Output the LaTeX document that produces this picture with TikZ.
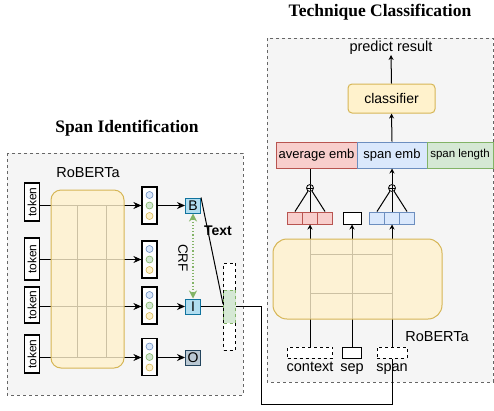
\documentclass[tikz,border=0pt]{standalone}
\usepackage{fontspec}
\setmainfont{Liberation Sans}
\newfontfamily\titlefont{Liberation Serif}
\usepackage{tikz}
\usetikzlibrary{arrows.meta}
\usetikzlibrary{positioning}
\definecolor{panelgray}{HTML}{F5F5F5}
\definecolor{dashgray}{HTML}{666666}
\definecolor{ylwfill}{HTML}{FFF2CC}
\definecolor{ylwline}{HTML}{D6B656}
\definecolor{grnfill}{HTML}{D5E8D4}
\definecolor{grnline}{HTML}{82B366}
\definecolor{blufill}{HTML}{DAE8FC}
\definecolor{bluline}{HTML}{6C8EBF}
\definecolor{redfill}{HTML}{F8CECC}
\definecolor{redline}{HTML}{B85450}
\definecolor{tagfill}{HTML}{B1DDF0}
\definecolor{tagline}{HTML}{10739E}
\definecolor{ofill}{HTML}{BAC8D3}
\definecolor{oline}{HTML}{23445D}
\def\fs#1{\fontsize{#1}{#1}\selectfont}
\newcommand{\featvec}[2]{%
  \node[vecbox] (#1) at (#2) {};
  \draw[line width=0.6pt,draw=bluline,fill=blufill] ([yshift=10.5pt]#1.center) circle (3.5pt);
  \draw[line width=0.6pt,draw=grnline,fill=grnfill] (#1.center) circle (3.5pt);
  \draw[line width=0.6pt,draw=ylwline,fill=ylwfill] ([yshift=-10.5pt]#1.center) circle (3.5pt);}

\begin{document}
\begin{tikzpicture}[x=1pt,y=-1pt,
    panel/.style={draw=dashgray,line width=0.9pt,dash pattern=on 3pt off 3pt,fill=panelgray},
    tokbox/.style={draw,line width=1.2pt,fill=white,rotate=90,minimum width=38pt,minimum height=15pt,inner sep=0pt,font=\fs{12}},
    vecbox/.style={draw,line width=1.2pt,fill=white,minimum width=15pt,minimum height=37pt,inner sep=0pt},
    tagbox/.style={draw=tagline,line width=1pt,fill=tagfill,minimum size=15pt,inner sep=0pt,font=\fs{14}},
    cell/.style={line width=1pt,minimum width=15pt,minimum height=12pt,inner sep=0pt},
    embbox/.style={line width=1pt,minimum height=26pt,inner sep=0pt,font=\fs{13}},
    inbox/.style={draw,line width=1pt,fill=white,minimum height=11pt,inner sep=0pt},
    lbl/.style={inner sep=0pt,font=\fs{14.5}},
    plus/.style={draw,circle,line width=0.8pt,minimum size=7pt,inner sep=0pt,
      path picture={\draw[line width=0.8pt] (path picture bounding box.north) -- (path picture bounding box.south)
        (path picture bounding box.west) -- (path picture bounding box.east);}},
    conn/.style={line width=1pt,-{Stealth[length=8pt,width=7pt]}},
    up/.style={line width=1pt,-{Stealth[length=5pt,width=5pt]}},
    ttl/.style={font=\titlefont\bfseries\fs{17.5}}]
    \useasboundingbox (0,0) rectangle (494,410);
    % Panels
    \draw[panel] (7,153) rectangle (243,395);
    \draw[panel] (267,38) rectangle (493,382);
    \node[ttl] (ttlspan) at (127,128) {Span Identification};
    \node[ttl] (ttltech) at (380,12) {Technique Classification};
    % Span identification
    \node[lbl] (robL) at (88,173) {RoBERTa};
    \node[tokbox] (t1) at (32,202) {token};
    \node[tokbox,minimum width=42pt] (t2) at (32,259) {token};
    \node[tokbox,minimum width=36pt] (t3) at (32,305) {token};
    \node[tokbox] (t4) at (32,354) {token};
    \featvec{v1}{149.5,205.5}
    \featvec{v2}{149.5,259.5}
    \featvec{v3}{149.5,305.5}
    \featvec{v4}{149.5,357}
    \node[tagbox] (B) at (193,205.5) {B};
    \node[tagbox] (I) at (193,306.5) {I};
    \node[tagbox,draw=oline,fill=ofill] (O) at (193,357.5) {O};
    % token rows
    \draw[conn] (t1.south |- v1.west) to (v1.west);
    \draw[conn] (t2.south |- v2.west) to (v2.west);
    \draw[conn] (t3.south |- I.west) to (v3.west |- I.west);
    \draw[conn] (t4.south |- O.west) to (v4.west |- O.west);
    \draw[line width=0.8pt] (77,205.5) to (77,357.5);
    \draw[line width=0.8pt] (106,205.5) to (106,357.5);
    \draw[draw=ylwline,line width=1pt,fill=ylwfill,fill opacity=0.8,rounded corners=10pt] (51,190) rectangle (124,368);
    % tags
    \draw[conn] (v1.east) to (B.west);
    \draw[conn] (v3.east |- I.west) to (I.west);
    \draw[conn] (v4.east |- O.west) to (O.west);
    \draw[grnline,line width=1.2pt,dotted,{Stealth[length=8pt,width=8pt]}-{Stealth[length=8pt,width=8pt]}] (B.south) to (I.north);
    \node[rotate=-90,font=\fs{13.5},inner sep=0pt] (crf) at (183,258) {CRF};
    \node[font=\bfseries\fs{14},inner sep=0pt] (txt) at (218,231) {Text};
    % Technique classification
    \node[lbl] (pred) at (391,48) {predict result};
    \node[draw=ylwline,fill=ylwfill,line width=1pt,rounded corners=4pt,minimum width=87pt,minimum height=29pt,font=\fs{14}] (clf) at (391.5,98.5) {classifier};
    \node[embbox,draw=redline,fill=redfill,minimum width=81pt] (avg) at (316.5,155) {average emb};
    \node[embbox,draw=bluline,fill=blufill,minimum width=70pt] (spe) at (392,155) {span emb};
    \node[embbox,draw=grnline,fill=grnfill,minimum width=66pt,font=\fs{11.5}] (len) at (460,155) {span length};
    \draw[up] (clf.north) to (pred.south);
    \draw[up] (spe.north) to (clf.south);
    \node[plus] (pr) at (310,188) {};
    \node[plus] (pb) at (392,188) {};
    \draw[line width=1pt] (pr) to (pr |- avg.south);
    \draw[up] (pb) to (pb |- spe.south);
    \node[cell,draw=redline,fill=redfill] (r1) at (295,218) {};
    \node[cell,draw=redline,fill=redfill] (r2) at (310,218) {};
    \node[cell,draw=redline,fill=redfill] (r3) at (325,218) {};
    \node[cell,draw,fill=white,minimum width=18pt] (sepv) at (352,218) {};
    \node[cell,draw=bluline,fill=blufill] (b1) at (377,218) {};
    \node[cell,draw=bluline,fill=blufill] (b2) at (392,218) {};
    \node[cell,draw=bluline,fill=blufill] (b3) at (407,218) {};
    \draw[line width=1pt] (pr) to (r1.north);
    \draw[line width=1pt] (pr) to (r2.north);
    \draw[line width=1pt] (pr) to (r3.north);
    \draw[line width=1pt] (pb) to (b1.north);
    \draw[line width=1pt] (pb) to (b2.north);
    \draw[line width=1pt] (pb) to (b3.north);
    % inputs
    \node[inbox,dashed,minimum width=45pt] (ctx) at (310,352.5) {};
    \node[inbox,minimum width=19pt] (sepin) at (352,352.5) {};
    \node[inbox,dashed,minimum width=30pt] (spin) at (392,352.5) {};
    \node[lbl,text height=10pt,text depth=3pt,below=3pt of ctx] (ctxl) {context};
    \node[lbl,text height=10pt,text depth=3pt,below=3pt of sepin] (sepl) {sep};
    \node[lbl,text height=10pt,text depth=3pt,below=3pt of spin] (spl) {span};
    \draw[up] (ctx.north) to (r2.south);
    \draw[up] (sepin.north) to (sepv.south);
    \draw[up] (spin.north) to (b2.south);
    \draw[line width=0.8pt] (310,254) to (392,254);
    \draw[line width=0.8pt] (310,293) to (392,293);
    \draw[draw=ylwline,line width=1pt,fill=ylwfill,fill opacity=0.8,rounded corners=14pt] (273,239) rectangle (442,319);
    \node[lbl] (robR) at (437,337) {RoBERTa};
    % span path
    \coordinate (merge) at (223,304);
    \coordinate (j1) at (261,306.5);
    \coordinate (j2) at (261,404);
    \coordinate (j3) at (392,404);
    \draw[line width=1pt] (B.north east) to (merge);
    \draw[line width=1pt] (I.east) -- (j1) -- (j2) -- (j3) -- (spin.south);
    \node[draw,dashed,line width=1pt,fill=white,minimum width=12pt,minimum height=87pt,inner sep=0pt] (hid) at (229.5,306.5) {};
    \node[draw=grnline,dashed,line width=1pt,fill=grnfill,minimum width=12pt,minimum height=33pt,inner sep=0pt] (hidspan) at (229.5,306.5) {};
\end{tikzpicture}
\end{document}
